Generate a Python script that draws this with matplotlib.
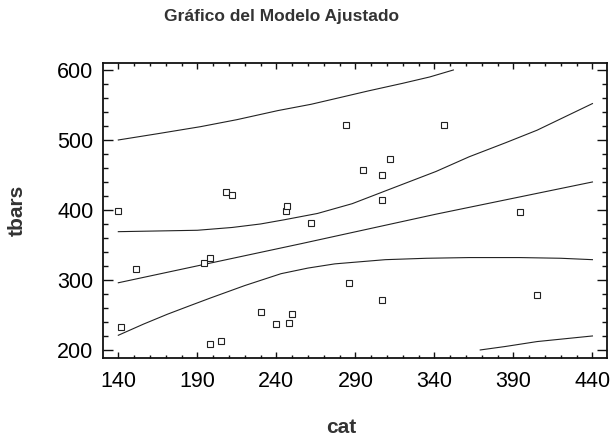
import matplotlib

matplotlib.use("Agg")

import matplotlib.pyplot as plt
from matplotlib.ticker import MultipleLocator

plt.rcParams["font.family"] = ["Liberation Sans", "DejaVu Sans"]

# observed points
cat = [140, 142, 151, 194, 198, 198, 205, 208, 212, 230, 240, 246, 247,
       248, 250, 262, 284, 286, 295, 307, 307, 307, 312, 346, 394, 405]
tbars = [398, 233, 315, 324, 331, 209, 213, 425, 422, 254, 237, 399, 405,
         238, 251, 381, 522, 295, 457, 450, 414, 272, 473, 521, 397, 278]

# fitted line
fit_x = [140, 256, 341, 440]
fit_y = [296, 352, 394, 440]

# confidence limits for the mean
conf_hi_x = [140, 190, 212, 230, 245, 266, 288, 311, 341, 362, 385, 405, 440]
conf_hi_y = [369, 371, 375, 380, 386, 395, 409, 429, 455, 476, 496, 514, 552]
conf_lo_x = [140, 156, 171, 185, 198, 220, 243, 260, 277, 293, 309, 335, 362, 394, 420, 440]
conf_lo_y = [221, 237, 251, 263, 274, 292, 309, 317, 323, 326, 329, 331, 332, 332, 331, 329]

# prediction limits
pred_hi_x = [140, 165, 192, 215, 241, 262, 281, 298, 320, 337, 352]
pred_hi_y = [500, 509, 519, 529, 542, 551, 561, 570, 581, 590, 600]
pred_lo_x = [369, 385, 405, 440]
pred_lo_y = [200, 205, 212, 220]

fig = plt.figure(figsize=(6.12, 4.4), dpi=100)
ax = fig.add_axes([0.1688, 0.1857, 0.8230, 0.6718])

line_kw = dict(color="#222222", linewidth=0.8)
ax.plot(fit_x, fit_y, **line_kw)
ax.plot(conf_hi_x, conf_hi_y, **line_kw)
ax.plot(conf_lo_x, conf_lo_y, **line_kw)
ax.plot(pred_hi_x, pred_hi_y, **line_kw)
ax.plot(pred_lo_x, pred_lo_y, **line_kw)
ax.plot(cat, tbars, linestyle="none", marker="s", markersize=4.2,
        markerfacecolor="white", markeredgecolor="#222222", markeredgewidth=0.8)

ax.set_xlim(130.5, 449.2)
ax.set_ylim(188.1, 610.4)
ax.set_xticks(range(140, 441, 50))
ax.set_yticks(range(200, 601, 100))
ax.xaxis.set_minor_locator(MultipleLocator(10))
ax.yaxis.set_minor_locator(MultipleLocator(20))

ax.tick_params(axis="both", which="both", direction="in", top=True, right=True,
               color="#111111", width=1.0)
ax.tick_params(axis="x", which="major", length=4.5, pad=9, labelsize=15.5)
ax.tick_params(axis="x", which="minor", length=2.5)
ax.tick_params(axis="y", which="major", length=7, pad=7, labelsize=15.5)
ax.tick_params(axis="y", which="minor", length=3.6)

for spine in ax.spines.values():
    spine.set_linewidth(1.3)
    spine.set_color("#111111")

ax.set_xlabel("cat", fontsize=15, fontweight="bold", color="#333333", labelpad=19)
ax.xaxis.label.set_x(0.4716)
ax.set_ylabel("tbars", fontsize=15, fontweight="bold", color="#333333", labelpad=22)
fig.text(281 / 612, 1 - 16 / 440, "Gráfico del Modelo Ajustado",
         ha="center", va="center", fontsize=12.5, fontweight="bold", color="#333333")

fig.savefig("out.png", dpi=100)
